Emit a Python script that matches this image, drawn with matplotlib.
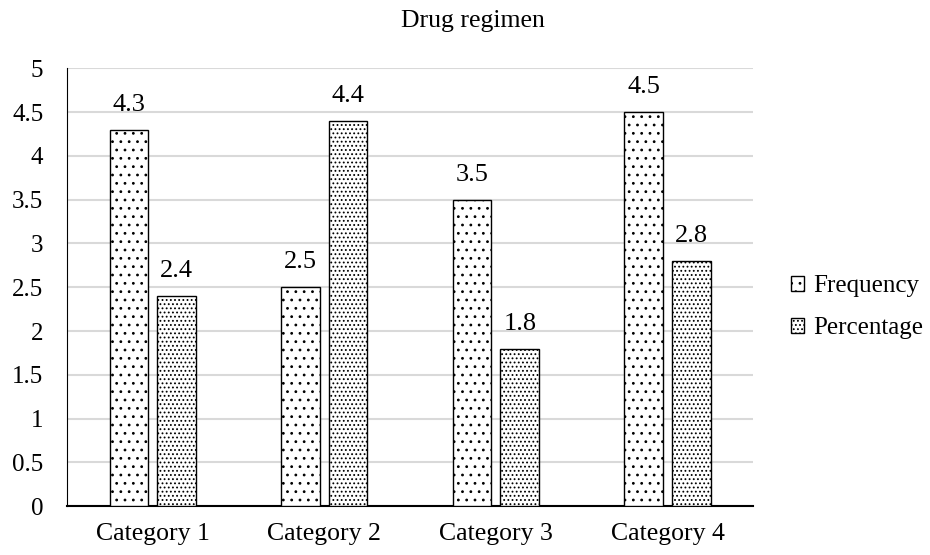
import numpy as np
import matplotlib
matplotlib.use('Agg')
import matplotlib.pyplot as plt

plt.rcParams['font.family'] = ['Liberation Serif', 'DejaVu Serif']
plt.rcParams['hatch.linewidth'] = 0.8

categories = ['Category 1', 'Category 2', 'Category 3', 'Category 4']
frequency = [4.3, 2.5, 3.5, 4.5]
percentage = [2.4, 4.4, 1.8, 2.8]
yticks = [0, 0.5, 1, 1.5, 2, 2.5, 3, 3.5, 4, 4.5, 5]

fig = plt.figure(figsize=(9.3, 5.55), dpi=100)
ax = fig.add_axes([0.072, 0.088, 0.738, 0.789])

x = np.arange(len(categories))
w = 0.225
off = 0.139

b1 = ax.bar(x - off, frequency, w, color='white', edgecolor='black', hatch='..',
            linewidth=1.0, label='Frequency', zorder=3)
b2 = ax.bar(x + off, percentage, w, color='white', edgecolor='black', hatch='....',
            linewidth=1.0, label='Percentage', zorder=3)

# value labels over the bars
for bars, vals in [(b1, frequency), (b2, percentage)]:
    for r, v in zip(bars, vals):
        ax.annotate(str(v), (r.get_x() + r.get_width() / 2, v), xytext=(0, 10),
                    textcoords='offset points', ha='center', va='bottom', fontsize=19)

ax.set_xlim(-0.5, 3.5)
ax.set_ylim(0, 5)
ax.set_yticks(yticks)
ax.set_yticklabels([('%g' % t) for t in yticks], fontsize=18)
ax.set_xticks(x)
ax.set_xticklabels(categories, fontsize=18.5)
ax.tick_params(axis='y', length=0, pad=17)
ax.tick_params(axis='x', length=0, pad=12)
ax.grid(axis='y', color='#d9d9d9', linewidth=1.5, zorder=0)
for s in ['top', 'right']:
    ax.spines[s].set_visible(False)
ax.spines['left'].set_color('black')
ax.spines['bottom'].set_color('black')
ax.spines['bottom'].set_linewidth(1.5)

fig.text(0.508, 0.962, 'Drug regimen', ha='center', va='center', fontsize=18.5)

leg = fig.legend(handles=[b1, b2], loc='center left', bbox_to_anchor=(0.85, 0.447),
                 frameon=False, fontsize=18, handlelength=0.55, handleheight=0.55,
                 handletextpad=0.35, labelspacing=0.8, borderaxespad=0, borderpad=0)

fig.savefig('out.png', dpi=100)
